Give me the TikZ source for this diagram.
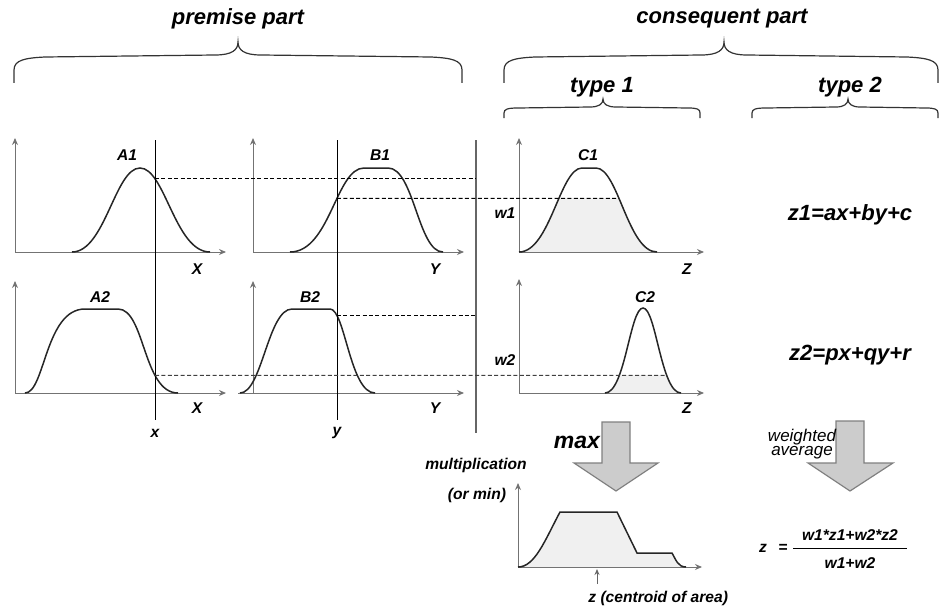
\documentclass[tikz,border=0pt]{standalone}
\usepackage{fontspec}
\setmainfont{Liberation Sans}
\usetikzlibrary{positioning,arrows.meta,calc,intersections}

\begin{document}
\begin{tikzpicture}[x=0.5pt,y=-0.5pt,
  lbl/.style={font=\bfseries\itshape\fontsize{7.8}{9}\selectfont,inner sep=0pt},
  head/.style={font=\bfseries\itshape\fontsize{11}{13}\selectfont,inner sep=0pt},
  axis/.style={draw=black!55,line width=0.5pt,-{Stealth[length=3.5pt,width=3pt]}},
  mf/.style={line width=0.75pt,black!85},
  cut/.style={line width=0.5pt},
  lvl/.style={dash pattern=on 2pt off 1.2pt,line width=0.45pt},
  area/.style={fill=black!6},
  bigarrow/.style={fill=black!20,draw=black!50,line width=0.6pt},
  brace/.style={line width=0.6pt,black!80}]
\useasboundingbox (0,0) rectangle (941,610);

% braces and headings
\draw[brace] (14,83) -- (14,70) .. controls (14,60) and (25,58) .. (45,57) -- (215,55)
  .. controls (232,55) and (238,50) .. (238,42) .. controls (238,50) and (244,55) .. (261,55)
  -- (431,57) .. controls (451,58) and (462,60) .. (462,70) -- (462,83);
\draw[brace] (504,83) -- (504,70) .. controls (504,60) and (515,58) .. (535,57) -- (701,55)
  .. controls (718,55) and (724,50) .. (724,42) .. controls (724,50) and (730,55) .. (747,55)
  -- (907,57) .. controls (927,58) and (938,60) .. (938,70) -- (938,83);
\draw[brace] (504,118) -- (504,113) .. controls (504,109) and (508,108) .. (518,108) -- (590,107)
  .. controls (599,107) and (603,104) .. (603,99) .. controls (603,104) and (607,107) .. (616,107)
  -- (688,108) .. controls (697,108) and (700,109) .. (700,113) -- (700,118);
\draw[brace] (752,118) -- (752,113) .. controls (752,109) and (756,108) .. (766,108) -- (836,107)
  .. controls (844,107) and (848,104) .. (848,99) .. controls (848,104) and (852,107) .. (860,107)
  -- (926,108) .. controls (934,108) and (938,109) .. (938,113) -- (938,118);
\node[head] (premise) at (238,19) {premise part};
\node[head] (consequent) at (722,19) {consequent part};
\node[head] (typeone) at (602,87) {type 1};
\node[head] (typetwo) at (850,87) {type 2};

% premise axes
\draw[axis] (15,252) -- (15,138);
\draw[axis] (15,252) -- (226,252);
\draw[axis] (253,252) -- (253,138);
\draw[axis] (253,252) -- (464,252);
\draw[axis] (15,393) -- (15,281);
\draw[axis] (15,393) -- (226,393);
\draw[axis] (253,393) -- (253,281);
\draw[axis] (238,393) -- (464,393);
\node[lbl] (Xone) at (197,269) {X};
\node[lbl] (Yone) at (435,269) {Y};
\node[lbl] (Xtwo) at (197,408) {X};
\node[lbl] (Ytwo) at (435,408) {Y};

% membership functions
\draw[mf,name path=Aone] (72,252) .. controls (105,252) and (115,168) .. (140,168)
  .. controls (165,168) and (175,252) .. (210,252);
\draw[mf,name path=Bone] (290,252) .. controls (330,252) and (336,168) .. (364,168) -- (388,168)
  .. controls (414,168) and (418,252) .. (443,252);
\draw[mf,name path=Atwo] (25,393) .. controls (45,393) and (45,309) .. (85,309) -- (118,309)
  .. controls (145,309) and (143,393) .. (178,393);
\draw[mf,name path=Btwo] (240,393) .. controls (262,393) and (268,309) .. (292,309) -- (330,309)
  .. controls (345,309) and (350,393) .. (375,393);
\node[lbl] (Aonelbl) at (127,155) {A1};
\node[lbl] (Bonelbl) at (380,155) {B1};
\node[lbl] (Atwolbl) at (100,297) {A2};
\node[lbl] (Btwolbl) at (310,297) {B2};

% input values and divider
\draw[cut,name path=xcut] (155,140) -- (155,420);
\draw[cut,name path=ycut] (337,140) -- (337,420);
\node[lbl] (xin) at (155,433) {x};
\node[lbl] (yin) at (337,433) {y};
\coordinate (divtop) at (476,140);
\draw[black!60,line width=0.8pt] (divtop) -- (476,433);
\path[name intersections={of=Aone and xcut,by=pAone}];
\path[name intersections={of=Bone and ycut,by=pBone}];
\path[name intersections={of=Atwo and xcut,by=pAtwo}];
\path[name intersections={of=Btwo and ycut,by=pBtwo}];

% consequent C1, C2
\coordinate (Conezero) at (519,252);
\coordinate (Ctwozero) at (519,393);
\begin{scope}
  \clip (pBone -| Conezero) rectangle (710,252);
  \fill[area] (519,252) .. controls (550,252) and (560,168) .. (582,168) -- (596,168)
    .. controls (618,168) and (628,252) .. (657,252) -- cycle;
\end{scope}
\begin{scope}
  \clip (pAtwo -| Ctwozero) rectangle (710,393);
  \fill[area] (605,393) .. controls (625,393) and (630,308) .. (643,308)
    .. controls (656,308) and (661,393) .. (681,393) -- cycle;
\end{scope}
\draw[axis] (Conezero) -- (519,138);
\draw[axis] (Conezero) -- (704,252);
\draw[axis] (Ctwozero) -- (519,279);
\draw[axis] (Ctwozero) -- (704,393);
\draw[mf,name path=Cone] (519,252) .. controls (550,252) and (560,168) .. (582,168) -- (596,168)
  .. controls (618,168) and (628,252) .. (657,252);
\draw[mf,name path=Ctwo] (605,393) .. controls (625,393) and (630,308) .. (643,308)
  .. controls (656,308) and (661,393) .. (681,393);
\node[lbl] (Conelbl) at (588,155) {C1};
\node[lbl] (Ctwolbl) at (645,297) {C2};
\node[lbl] (Zone) at (687,269) {Z};
\node[lbl] (Ztwo) at (687,408) {Z};
\node[lbl] (wone) at (505,213) {w1};
\node[lbl] (wtwo) at (505,360) {w2};

% firing levels
\path[name path=wonepath] (pBone) -- +(400,0);
\path[name path=wtwopath] (pAtwo) -- +(600,0);
\path[name intersections={of=wonepath and Cone,sort by=wonepath,by={cOneL,cOneR}}];
\path[name intersections={of=wtwopath and Ctwo,sort by=wtwopath,by={cTwoL,cTwoR}}];
\draw[lvl] (pAone) -- (pAone -| divtop);
\draw[lvl] (pBtwo) -- (pBtwo -| divtop);
\draw[lvl] (pBone) -- (cOneR);
\draw[lvl,black!75] (pAtwo) -- (cTwoR);

% type 2 outputs
\node[head] (zone) at (850,215) {z1=ax+by+c};
\node[head] (ztwo) at (850,355) {z2=px+qy+r};

% aggregation arrows
\draw[bigarrow] (602,422) -- (630,422) -- (630,463) -- (658,463) -- (616,491) -- (574,463) -- (602,463) -- cycle;
\draw[bigarrow] (836,421) -- (864,421) -- (864,463) -- (893,463) -- (850,491) -- (808,463) -- (836,463) -- cycle;
\node[head,font=\bfseries\itshape\fontsize{11.5}{13}\selectfont] (max) at (577,442) {max};
\node[lbl] (mult) at (476,465) {multiplication};
\node[lbl] (ormin) at (477,495) {(or min)};
\node[inner sep=0pt,align=center,font=\itshape\fontsize{8.5}{7.4}\selectfont] (wavg) at (802,444) {weighted\\average};

% aggregated output
\fill[area] (518,567) .. controls (535,567) and (545,540) .. (560,512) -- (617,512) -- (637,553)
  -- (672,553) .. controls (676,560) and (678,567) .. (686,567) -- cycle;
\draw[axis] (518,567) -- (518,483);
\draw[axis] (518,567) -- (702,567);
\draw[mf] (518,567) .. controls (535,567) and (545,540) .. (560,512) -- (617,512) -- (637,553)
  -- (672,553) .. controls (676,560) and (678,567) .. (686,567);
\node[lbl,anchor=west] (centroid) at (588,598) {z (centroid of area)};
\coordinate (zc) at (597,569);
\draw[black!60,line width=0.5pt,-{Stealth[length=3pt,width=2.5pt]}] (597,584) -- (zc);

% weighted average formula
\node[lbl] (zout) at (763,548) {z};
\node[lbl] (eq) at (783,548) {=};
\node[lbl] (num) at (850,535) {w1*z1+w2*z2};
\node[lbl] (den) at (850,563) {w1+w2};
\draw[line width=0.5pt] (793,548) -- (907,548);
\end{tikzpicture}
\end{document}
